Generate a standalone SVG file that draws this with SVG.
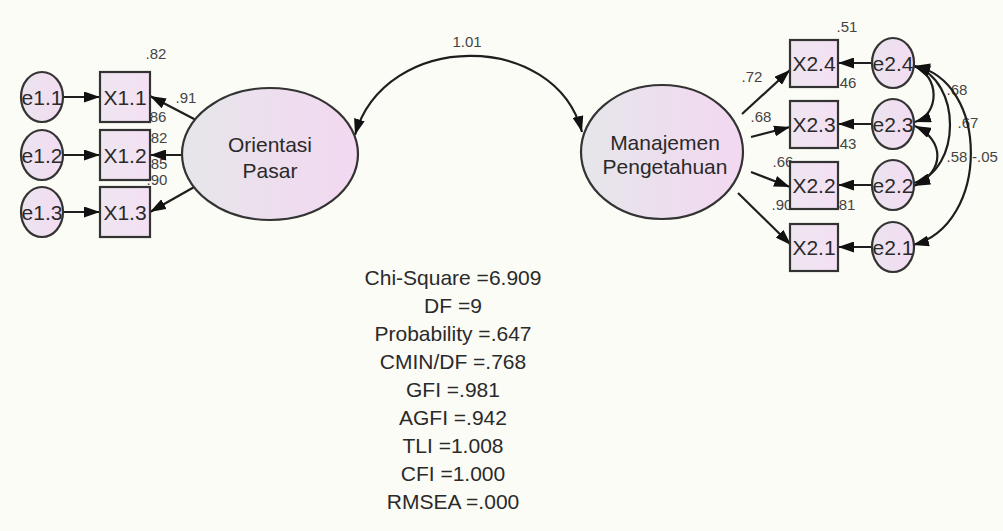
<svg xmlns="http://www.w3.org/2000/svg" width="1003" height="531" viewBox="0 0 1003 531">
  <style>
    .lbl { font-family: "Liberation Sans", Arial, sans-serif; fill: #2a2a2a; text-anchor: middle; }
    .node { font-size: 21px; }
    .est { font-size: 15px; fill: #444; }
    .fit { font-size: 21px; }
    .box { fill: url(#boxFill); stroke: #333; stroke-width: 2.2; }
    .err { fill: url(#errFill); stroke: #333; stroke-width: 2.2; }
    .lat { fill: url(#latFill); stroke: #333; stroke-width: 2.2; }
    .edge { fill: none; stroke: #1e1e1e; stroke-width: 2.2; }
  </style>
  <defs>
    <linearGradient id="latFill" x1="0" y1="0" x2="1" y2="0">
      <stop offset="0" stop-color="#e6e6ea"/>
      <stop offset="1" stop-color="#f3d8f1"/>
    </linearGradient>
    <linearGradient id="boxFill" x1="0" y1="0" x2="1" y2="0">
      <stop offset="0" stop-color="#eee6f0"/>
      <stop offset="1" stop-color="#f4e0f3"/>
    </linearGradient>
    <linearGradient id="errFill" x1="0" y1="0" x2="1" y2="0">
      <stop offset="0" stop-color="#ebe4ee"/>
      <stop offset="1" stop-color="#f3dcf2"/>
    </linearGradient>
    <marker id="ah" viewBox="0 0 16 11" refX="16" refY="5.5" markerWidth="16" markerHeight="11" markerUnits="userSpaceOnUse" orient="auto-start-reverse">
      <path d="M0,0 L16,5.5 L0,11 z" fill="#111"/>
    </marker>
  </defs>

  <rect width="1003" height="531" fill="#fcfcf7"/>

  <!-- estimates (drawn first so shapes sit over them) -->
  <g id="estimates" class="lbl est">
    <text x="156" y="59">.82</text>
    <text x="186" y="103">.91</text>
    <text x="156" y="122">.86</text>
    <text x="157" y="143">.82</text>
    <text x="157" y="169">.85</text>
    <text x="157" y="185">.90</text>
    <text x="467" y="47">1.01</text>
    <text x="847" y="32">.51</text>
    <text x="752" y="82">.72</text>
    <text x="846" y="88">.46</text>
    <text x="761" y="122">.68</text>
    <text x="846" y="149">.43</text>
    <text x="783" y="167">.66</text>
    <text x="782" y="210">.90</text>
    <text x="845" y="210">.81</text>
    <text x="957" y="95">.68</text>
    <text x="968" y="128">.67</text>
    <text x="957" y="162">.58</text>
    <text x="985" y="162">-.05</text>
  </g>

  <!-- connectors -->
  <g id="connectors">
    <!-- errors to indicators, left -->
    <line class="edge" x1="63" y1="97" x2="100" y2="97" marker-end="url(#ah)"/>
    <line class="edge" x1="63" y1="155" x2="100" y2="155" marker-end="url(#ah)"/>
    <line class="edge" x1="63" y1="212" x2="100" y2="212" marker-end="url(#ah)"/>
    <!-- Orientasi Pasar loadings -->
    <line class="edge" x1="196" y1="120" x2="150" y2="96" marker-end="url(#ah)"/>
    <line class="edge" x1="183" y1="155" x2="150" y2="155" marker-end="url(#ah)"/>
    <line class="edge" x1="196" y1="186" x2="150" y2="212" marker-end="url(#ah)"/>
    <!-- covariance between latents -->
    <path class="edge" d="M355,135 C385,30 555,30 582,132" marker-start="url(#ah)" marker-end="url(#ah)"/>
    <!-- Manajemen Pengetahuan loadings -->
    <line class="edge" x1="742" y1="114" x2="790" y2="70" marker-end="url(#ah)"/>
    <line class="edge" x1="751" y1="137" x2="790" y2="127" marker-end="url(#ah)"/>
    <line class="edge" x1="751" y1="172" x2="790" y2="187" marker-end="url(#ah)"/>
    <line class="edge" x1="738" y1="193" x2="791" y2="245" marker-end="url(#ah)"/>
    <!-- errors to indicators, right -->
    <line class="edge" x1="872" y1="63" x2="838" y2="63" marker-end="url(#ah)"/>
    <line class="edge" x1="872" y1="124" x2="838" y2="124" marker-end="url(#ah)"/>
    <line class="edge" x1="872" y1="185" x2="838" y2="185" marker-end="url(#ah)"/>
    <line class="edge" x1="872" y1="247" x2="838" y2="247" marker-end="url(#ah)"/>
    <!-- error covariances -->
    <path class="edge" d="M914,66 C940,76 940,114 915,122" marker-start="url(#ah)" marker-end="url(#ah)"/>
    <path class="edge" d="M914,66 C962,80 962,170 914,183" marker-start="url(#ah)" marker-end="url(#ah)"/>
    <path class="edge" d="M915,126 C945,140 945,172 914,186" marker-start="url(#ah)" marker-end="url(#ah)"/>
    <path class="edge" d="M914,66 C990,80 990,225 913,245" marker-start="url(#ah)" marker-end="url(#ah)"/>
  </g>

  <!-- left error terms -->
  <g id="e1.1"><ellipse class="err" cx="42" cy="97" rx="21" ry="25"/><text class="lbl node" x="42" y="105">e1.1</text></g>
  <g id="e1.2"><ellipse class="err" cx="42" cy="155" rx="21" ry="25"/><text class="lbl node" x="42" y="163">e1.2</text></g>
  <g id="e1.3"><ellipse class="err" cx="42" cy="212" rx="21" ry="25"/><text class="lbl node" x="42" y="220">e1.3</text></g>

  <!-- left indicators -->
  <g id="X1.1"><rect class="box" x="100" y="72" width="50" height="50"/><text class="lbl node" x="125" y="105">X1.1</text></g>
  <g id="X1.2"><rect class="box" x="100" y="130" width="50" height="50"/><text class="lbl node" x="125" y="163">X1.2</text></g>
  <g id="X1.3"><rect class="box" x="100" y="187" width="50" height="50"/><text class="lbl node" x="125" y="220">X1.3</text></g>

  <!-- latent variables -->
  <g id="OrientasiPasar">
    <ellipse class="lat" cx="270" cy="154" rx="88" ry="66"/>
    <text class="lbl node" x="270" y="152">Orientasi</text>
    <text class="lbl node" x="270" y="178">Pasar</text>
  </g>
  <g id="ManajemenPengetahuan">
    <ellipse class="lat" cx="662" cy="152" rx="81" ry="67"/>
    <text class="lbl node" x="665" y="150">Manajemen</text>
    <text class="lbl node" x="665" y="174">Pengetahuan</text>
  </g>

  <!-- right indicators -->
  <g id="X2.4"><rect class="box" x="790" y="40" width="48" height="47"/><text class="lbl node" x="814" y="71">X2.4</text></g>
  <g id="X2.3"><rect class="box" x="790" y="101" width="48" height="47"/><text class="lbl node" x="814" y="132">X2.3</text></g>
  <g id="X2.2"><rect class="box" x="790" y="162" width="48" height="47"/><text class="lbl node" x="814" y="193">X2.2</text></g>
  <g id="X2.1"><rect class="box" x="790" y="224" width="48" height="47"/><text class="lbl node" x="814" y="255">X2.1</text></g>

  <!-- right error terms -->
  <g id="e2.4"><ellipse class="err" cx="893" cy="63" rx="21" ry="25"/><text class="lbl node" x="893" y="71">e2.4</text></g>
  <g id="e2.3"><ellipse class="err" cx="893" cy="124" rx="21" ry="25"/><text class="lbl node" x="893" y="132">e2.3</text></g>
  <g id="e2.2"><ellipse class="err" cx="893" cy="185" rx="21" ry="25"/><text class="lbl node" x="893" y="193">e2.2</text></g>
  <g id="e2.1"><ellipse class="err" cx="893" cy="247" rx="21" ry="25"/><text class="lbl node" x="893" y="255">e2.1</text></g>

  <!-- model fit summary -->
  <g id="fit" class="lbl fit">
    <text x="453" y="285">Chi-Square =6.909</text>
    <text x="453" y="313">DF =9</text>
    <text x="453" y="341">Probability =.647</text>
    <text x="453" y="369">CMIN/DF =.768</text>
    <text x="453" y="397">GFI =.981</text>
    <text x="453" y="425">AGFI =.942</text>
    <text x="453" y="453">TLI =1.008</text>
    <text x="453" y="481">CFI =1.000</text>
    <text x="453" y="509">RMSEA =.000</text>
  </g>
</svg>
